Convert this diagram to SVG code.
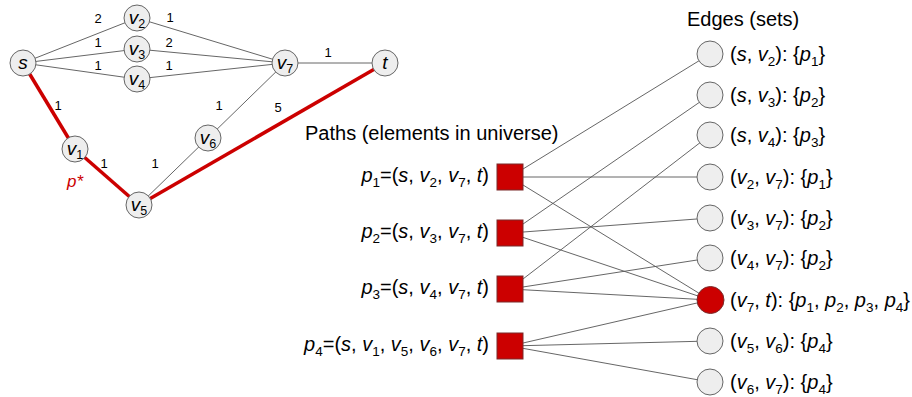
<svg xmlns="http://www.w3.org/2000/svg" width="912" height="397" viewBox="0 0 912 397">
<style>
text{font-family:"Liberation Sans",Arial,sans-serif;fill:#000}
.n{fill:#eeeeee;stroke:#666;stroke-width:1}
.e{stroke:#666;stroke-width:1;fill:none}
.r{stroke:#cc0000;stroke-width:3.5;fill:none}
.w{font-size:13px;text-anchor:middle}
.nl{font-size:19px;font-style:italic;text-anchor:middle}
.sb{font-size:12.5px;font-style:normal}
.big{font-size:20px}
.i{font-style:italic}
.sub{font-size:13.5px}
.sq{fill:#cc0000;stroke:#7a2a2a;stroke-width:1}
.rc{fill:#cc0000;stroke:#7a2a2a;stroke-width:1}
.c{stroke:#555;stroke-width:0.9;fill:none}
</style>
<rect width="912" height="397" fill="#fff"/>
<g id="connectors">
<line class="e" x1="23" y1="63" x2="137" y2="18"/>
<line class="e" x1="23" y1="63" x2="137" y2="49"/>
<line class="e" x1="23" y1="63" x2="137" y2="79"/>
<line class="e" x1="137" y1="18" x2="285" y2="63"/>
<line class="e" x1="137" y1="49" x2="285" y2="63"/>
<line class="e" x1="137" y1="79" x2="285" y2="63"/>
<line class="e" x1="285" y1="63" x2="385" y2="63"/>
<line class="e" x1="285" y1="63" x2="208" y2="138"/>
<line class="e" x1="208" y1="138" x2="139" y2="205"/>
<line class="r" x1="23" y1="63" x2="75" y2="149"/>
<line class="r" x1="75" y1="149" x2="139" y2="205"/>
<line class="r" x1="139" y1="205" x2="385" y2="63"/>
<line class="c" x1="510" y1="177" x2="710" y2="54"/>
<line class="c" x1="510" y1="177" x2="710" y2="177"/>
<line class="c" x1="510" y1="177" x2="710" y2="300"/>
<line class="c" x1="510" y1="233" x2="710" y2="95"/>
<line class="c" x1="510" y1="233" x2="710" y2="218"/>
<line class="c" x1="510" y1="233" x2="710" y2="300"/>
<line class="c" x1="510" y1="289" x2="710" y2="135"/>
<line class="c" x1="510" y1="289" x2="710" y2="258"/>
<line class="c" x1="510" y1="289" x2="710" y2="300"/>
<line class="c" x1="510" y1="346" x2="710" y2="341"/>
<line class="c" x1="510" y1="346" x2="710" y2="382"/>
<line class="c" x1="510" y1="346" x2="710" y2="300"/>
</g>
<g id="weights">
<text class="w" x="98" y="23">2</text>
<text class="w" x="170" y="22">1</text>
<text class="w" x="98" y="47">1</text>
<text class="w" x="169" y="47">2</text>
<text class="w" x="98" y="70">1</text>
<text class="w" x="169" y="70">1</text>
<text class="w" x="58" y="110">1</text>
<text class="w" x="219" y="110">1</text>
<text class="w" x="278" y="112">5</text>
<text class="w" x="328" y="57">1</text>
<text class="w" x="104" y="168">1</text>
<text class="w" x="155" y="168">1</text>
<text x="75" y="187" font-size="17" font-style="italic" fill="#cc0000" style="fill:#cc0000" text-anchor="middle">p*</text>
</g>
<g id="node-s"><circle class="n" cx="23" cy="63" r="13"/><text class="nl" x="23" y="69">s</text></g>
<g id="node-v2"><circle class="n" cx="137" cy="18" r="13"/><text class="nl" x="137" y="24">v<tspan class="sb" dy="4">2</tspan></text></g>
<g id="node-v3"><circle class="n" cx="137" cy="49" r="13"/><text class="nl" x="137" y="55">v<tspan class="sb" dy="4">3</tspan></text></g>
<g id="node-v4"><circle class="n" cx="137" cy="79" r="13"/><text class="nl" x="137" y="85">v<tspan class="sb" dy="4">4</tspan></text></g>
<g id="node-v7"><circle class="n" cx="285" cy="63" r="13"/><text class="nl" x="285" y="69">v<tspan class="sb" dy="4">7</tspan></text></g>
<g id="node-t"><circle class="n" cx="385" cy="63" r="13"/><text class="nl" x="385" y="69">t</text></g>
<g id="node-v1"><circle class="n" cx="75" cy="149" r="13"/><text class="nl" x="75" y="155">v<tspan class="sb" dy="4">1</tspan></text></g>
<g id="node-v5"><circle class="n" cx="139" cy="205" r="13"/><text class="nl" x="139" y="211">v<tspan class="sb" dy="4">5</tspan></text></g>
<g id="node-v6"><circle class="n" cx="208" cy="138" r="13"/><text class="nl" x="208" y="144">v<tspan class="sb" dy="4">6</tspan></text></g>

<g id="title-paths"><text class="big" x="305" y="140">Paths (elements in universe)</text></g>
<g id="title-edges"><text class="big" x="687" y="26">Edges (sets)</text></g>

<g id="path-p1"><rect class="sq" x="497" y="164" width="26" height="26"/><text class="big" x="489" y="182" text-anchor="end"><tspan class="i">p</tspan><tspan class="sub" dy="5">1</tspan><tspan dy="-5">=(</tspan><tspan class="i">s</tspan>, <tspan class="i">v</tspan><tspan class="sub" dy="5">2</tspan><tspan dy="-5">, </tspan><tspan class="i">v</tspan><tspan class="sub" dy="5">7</tspan><tspan dy="-5">, </tspan><tspan class="i">t</tspan>)</text></g>
<g id="path-p2"><rect class="sq" x="497" y="220" width="26" height="26"/><text class="big" x="489" y="238" text-anchor="end"><tspan class="i">p</tspan><tspan class="sub" dy="5">2</tspan><tspan dy="-5">=(</tspan><tspan class="i">s</tspan>, <tspan class="i">v</tspan><tspan class="sub" dy="5">3</tspan><tspan dy="-5">, </tspan><tspan class="i">v</tspan><tspan class="sub" dy="5">7</tspan><tspan dy="-5">, </tspan><tspan class="i">t</tspan>)</text></g>
<g id="path-p3"><rect class="sq" x="497" y="276" width="26" height="26"/><text class="big" x="489" y="294" text-anchor="end"><tspan class="i">p</tspan><tspan class="sub" dy="5">3</tspan><tspan dy="-5">=(</tspan><tspan class="i">s</tspan>, <tspan class="i">v</tspan><tspan class="sub" dy="5">4</tspan><tspan dy="-5">, </tspan><tspan class="i">v</tspan><tspan class="sub" dy="5">7</tspan><tspan dy="-5">, </tspan><tspan class="i">t</tspan>)</text></g>
<g id="path-p4"><rect class="sq" x="497" y="333" width="26" height="26"/><text class="big" x="489" y="351" text-anchor="end"><tspan class="i">p</tspan><tspan class="sub" dy="5">4</tspan><tspan dy="-5">=(</tspan><tspan class="i">s</tspan>, <tspan class="i">v</tspan><tspan class="sub" dy="5">1</tspan><tspan dy="-5">, </tspan><tspan class="i">v</tspan><tspan class="sub" dy="5">5</tspan><tspan dy="-5">, </tspan><tspan class="i">v</tspan><tspan class="sub" dy="5">6</tspan><tspan dy="-5">, </tspan><tspan class="i">v</tspan><tspan class="sub" dy="5">7</tspan><tspan dy="-5">, </tspan><tspan class="i">t</tspan>)</text></g>

<g id="set-s-v2"><circle class="n" cx="710" cy="54" r="13"/><text class="big" x="730" y="61">(<tspan class="i">s</tspan>, <tspan class="i">v</tspan><tspan class="sub" dy="5">2</tspan><tspan dy="-5">): {</tspan><tspan class="i">p</tspan><tspan class="sub" dy="5">1</tspan><tspan dy="-5">}</tspan></text></g>
<g id="set-s-v3"><circle class="n" cx="710" cy="95" r="13"/><text class="big" x="730" y="102">(<tspan class="i">s</tspan>, <tspan class="i">v</tspan><tspan class="sub" dy="5">3</tspan><tspan dy="-5">): {</tspan><tspan class="i">p</tspan><tspan class="sub" dy="5">2</tspan><tspan dy="-5">}</tspan></text></g>
<g id="set-s-v4"><circle class="n" cx="710" cy="135" r="13"/><text class="big" x="730" y="142">(<tspan class="i">s</tspan>, <tspan class="i">v</tspan><tspan class="sub" dy="5">4</tspan><tspan dy="-5">): {</tspan><tspan class="i">p</tspan><tspan class="sub" dy="5">3</tspan><tspan dy="-5">}</tspan></text></g>
<g id="set-v2-v7"><circle class="n" cx="710" cy="177" r="13"/><text class="big" x="730" y="184">(<tspan class="i">v</tspan><tspan class="sub" dy="5">2</tspan><tspan dy="-5">, </tspan><tspan class="i">v</tspan><tspan class="sub" dy="5">7</tspan><tspan dy="-5">): {</tspan><tspan class="i">p</tspan><tspan class="sub" dy="5">1</tspan><tspan dy="-5">}</tspan></text></g>
<g id="set-v3-v7"><circle class="n" cx="710" cy="218" r="13"/><text class="big" x="730" y="225">(<tspan class="i">v</tspan><tspan class="sub" dy="5">3</tspan><tspan dy="-5">, </tspan><tspan class="i">v</tspan><tspan class="sub" dy="5">7</tspan><tspan dy="-5">): {</tspan><tspan class="i">p</tspan><tspan class="sub" dy="5">2</tspan><tspan dy="-5">}</tspan></text></g>
<g id="set-v4-v7"><circle class="n" cx="710" cy="258" r="13"/><text class="big" x="730" y="265">(<tspan class="i">v</tspan><tspan class="sub" dy="5">4</tspan><tspan dy="-5">, </tspan><tspan class="i">v</tspan><tspan class="sub" dy="5">7</tspan><tspan dy="-5">): {</tspan><tspan class="i">p</tspan><tspan class="sub" dy="5">2</tspan><tspan dy="-5">}</tspan></text></g>
<g id="set-v7-t"><circle class="rc" cx="710.5" cy="300" r="13.5"/><text class="big" x="730" y="307">(<tspan class="i">v</tspan><tspan class="sub" dy="5">7</tspan><tspan dy="-5">, </tspan><tspan class="i">t</tspan>): {<tspan class="i">p</tspan><tspan class="sub" dy="5">1</tspan><tspan dy="-5">, </tspan><tspan class="i">p</tspan><tspan class="sub" dy="5">2</tspan><tspan dy="-5">, </tspan><tspan class="i">p</tspan><tspan class="sub" dy="5">3</tspan><tspan dy="-5">, </tspan><tspan class="i">p</tspan><tspan class="sub" dy="5">4</tspan><tspan dy="-5">}</tspan></text></g>
<g id="set-v5-v6"><circle class="n" cx="710" cy="341" r="13"/><text class="big" x="730" y="348">(<tspan class="i">v</tspan><tspan class="sub" dy="5">5</tspan><tspan dy="-5">, </tspan><tspan class="i">v</tspan><tspan class="sub" dy="5">6</tspan><tspan dy="-5">): {</tspan><tspan class="i">p</tspan><tspan class="sub" dy="5">4</tspan><tspan dy="-5">}</tspan></text></g>
<g id="set-v6-v7"><circle class="n" cx="710" cy="382" r="13"/><text class="big" x="730" y="389">(<tspan class="i">v</tspan><tspan class="sub" dy="5">6</tspan><tspan dy="-5">, </tspan><tspan class="i">v</tspan><tspan class="sub" dy="5">7</tspan><tspan dy="-5">): {</tspan><tspan class="i">p</tspan><tspan class="sub" dy="5">4</tspan><tspan dy="-5">}</tspan></text></g>
</svg>
